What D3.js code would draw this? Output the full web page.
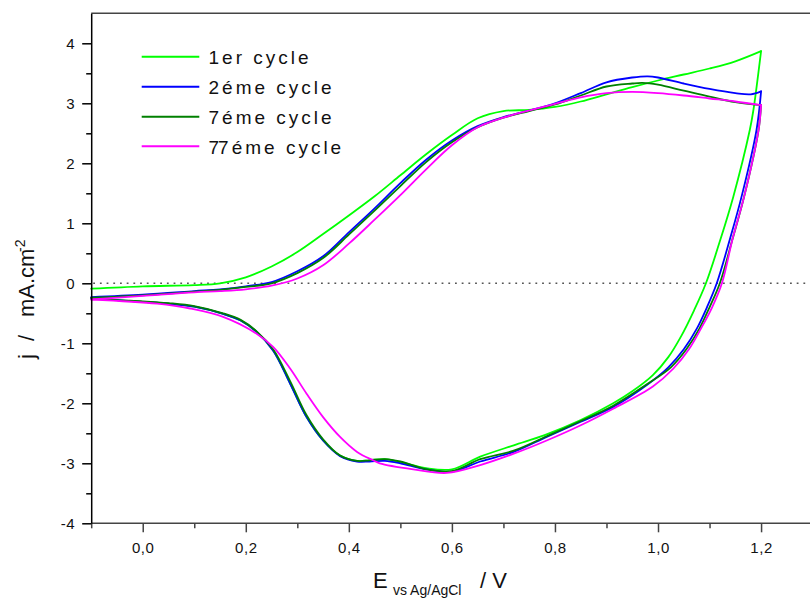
<!DOCTYPE html>
<html>
<head>
<meta charset="utf-8">
<script src="https://cdn.jsdelivr.net/npm/d3@7"></script>
<style>
  html, body { margin: 0; padding: 0; background: #fff; }
  svg { display: block; font-family: Arial, "Liberation Sans", sans-serif; }
</style>
</head>
<body>
<svg id="chart" width="810" height="599"></svg>
<script>
// ---------------- DATA ----------------
const seriesNames = ["1er cycle", "2éme cycle", "7éme cycle", "77éme cycle"];
const seriesColors = ["#00ff00", "#0000ff", "#008000", "#ff00ff"];

// 1er cycle
const c1AnodicE = [-0.1, 0.0, 0.1, 0.15, 0.2, 0.25, 0.3, 0.35, 0.4, 0.45, 0.5, 0.55, 0.6, 0.65, 0.7, 0.75, 0.8, 0.85, 0.9, 0.95, 1.0, 1.05, 1.1, 1.15, 1.2];
const c1AnodicJ = [-0.09, -0.05, -0.03, 0.0, 0.1, 0.28, 0.52, 0.82, 1.13, 1.45, 1.8, 2.15, 2.47, 2.75, 2.87, 2.89, 2.94, 3.03, 3.15, 3.27, 3.38, 3.48, 3.58, 3.7, 3.87];
const c1CathodicE = [1.2, 1.185, 1.178, 1.146, 1.12, 1.093, 1.07, 1.045, 1.02, 0.99, 0.95, 0.913, 0.85, 0.78, 0.72, 0.655, 0.6, 0.55, 0.5, 0.47, 0.44, 0.416, 0.383, 0.35, 0.318, 0.286, 0.253, 0.221, 0.19, 0.156, 0.1, 0.05, 0.0, -0.05, -0.1];
const c1CathodicJ = [3.87, 2.88, 2.55, 1.44, 0.7, 0.0, -0.45, -0.88, -1.23, -1.53, -1.8, -2.0, -2.28, -2.53, -2.7, -2.89, -3.1, -3.08, -2.98, -2.93, -2.95, -2.96, -2.87, -2.62, -2.23, -1.67, -1.12, -0.81, -0.62, -0.51, -0.39, -0.34, -0.31, -0.28, -0.26];

// 2éme cycle
const c2AnodicE = [-0.1, 0.0, 0.1, 0.15, 0.2, 0.25, 0.3, 0.35, 0.4, 0.45, 0.5, 0.55, 0.6, 0.65, 0.7, 0.75, 0.8, 0.85, 0.9, 0.95, 0.98, 1.0, 1.05, 1.1, 1.15, 1.18, 1.2];
const c2AnodicJ = [-0.23, -0.19, -0.13, -0.1, -0.05, 0.02, 0.2, 0.45, 0.85, 1.25, 1.67, 2.06, 2.38, 2.62, 2.77, 2.88, 3.0, 3.17, 3.35, 3.43, 3.45, 3.43, 3.33, 3.24, 3.17, 3.15, 3.2];
const c2CathodicE = [1.2, 1.191, 1.162, 1.14, 1.114, 1.095, 1.075, 1.05, 1.02, 0.979, 0.913, 0.849, 0.784, 0.72, 0.655, 0.6, 0.55, 0.5, 0.47, 0.44, 0.416, 0.383, 0.35, 0.318, 0.286, 0.253, 0.221, 0.19, 0.156, 0.1, 0.05, 0.0, -0.05, -0.1];
const c2CathodicJ = [3.2, 2.55, 1.44, 0.75, 0.0, -0.4, -0.76, -1.1, -1.4, -1.69, -2.06, -2.31, -2.56, -2.81, -2.97, -3.14, -3.1, -3.0, -2.96, -2.97, -2.97, -2.88, -2.62, -2.23, -1.67, -1.12, -0.81, -0.62, -0.51, -0.39, -0.34, -0.31, -0.28, -0.25];

// 7éme cycle
const c7AnodicE = [-0.1, 0.0, 0.1, 0.15, 0.2, 0.25, 0.3, 0.35, 0.4, 0.45, 0.5, 0.55, 0.6, 0.65, 0.7, 0.75, 0.8, 0.85, 0.9, 0.95, 0.97, 1.0, 1.05, 1.1, 1.15, 1.2];
const c7AnodicJ = [-0.24, -0.2, -0.14, -0.11, -0.06, 0.0, 0.17, 0.42, 0.81, 1.21, 1.62, 2.02, 2.35, 2.6, 2.76, 2.87, 2.98, 3.13, 3.28, 3.33, 3.34, 3.31, 3.21, 3.11, 3.02, 2.97];
const c7CathodicE = [1.2, 1.195, 1.167, 1.145, 1.12, 1.1, 1.08, 1.055, 1.025, 0.979, 0.913, 0.849, 0.784, 0.72, 0.655, 0.6, 0.55, 0.5, 0.47, 0.44, 0.416, 0.383, 0.35, 0.318, 0.286, 0.253, 0.221, 0.19, 0.156, 0.1, 0.05, 0.0, -0.05, -0.1];
const c7CathodicJ = [2.97, 2.55, 1.44, 0.75, 0.0, -0.4, -0.76, -1.1, -1.4, -1.68, -2.04, -2.3, -2.55, -2.79, -2.93, -3.13, -3.1, -2.97, -2.93, -2.95, -2.96, -2.87, -2.6, -2.2, -1.63, -1.1, -0.8, -0.61, -0.5, -0.38, -0.33, -0.3, -0.28, -0.25];

// 77éme cycle
const c77AnodicE = [-0.1, 0.0, 0.1, 0.15, 0.2, 0.25, 0.3, 0.35, 0.4, 0.45, 0.5, 0.55, 0.6, 0.65, 0.7, 0.75, 0.8, 0.85, 0.9, 0.95, 1.0, 1.05, 1.1, 1.15, 1.2];
const c77AnodicJ = [-0.27, -0.21, -0.15, -0.13, -0.1, -0.04, 0.08, 0.3, 0.66, 1.06, 1.47, 1.9, 2.3, 2.6, 2.76, 2.88, 2.99, 3.1, 3.17, 3.19, 3.17, 3.13, 3.08, 3.03, 2.97];
const c77CathodicE = [1.2, 1.195, 1.167, 1.145, 1.124, 1.105, 1.083, 1.06, 1.03, 0.99, 0.913, 0.849, 0.784, 0.72, 0.655, 0.59, 0.525, 0.46, 0.447, 0.416, 0.383, 0.35, 0.318, 0.286, 0.253, 0.221, 0.156, 0.092, 0.028, -0.1];
const c77CathodicJ = [2.97, 2.55, 1.44, 0.75, 0.0, -0.4, -0.76, -1.1, -1.42, -1.72, -2.09, -2.37, -2.62, -2.84, -3.03, -3.16, -3.1, -3.0, -2.95, -2.81, -2.56, -2.23, -1.84, -1.42, -1.06, -0.84, -0.56, -0.42, -0.34, -0.27];

const xMajorTicks = [0.0, 0.2, 0.4, 0.6, 0.8, 1.0, 1.2];
const xMinorTicks = [-0.1, 0.1, 0.3, 0.5, 0.7, 0.9, 1.1, 1.3];
const yMajorTicks = [-4, -3, -2, -1, 0, 1, 2, 3, 4];
const yMinorTicks = [-3.5, -2.5, -1.5, -0.5, 0.5, 1.5, 2.5, 3.5];

// ---------------- CHART ----------------
const svg = d3.select("#chart");
const x = d3.scaleLinear().domain([-0.1, 1.3]).range([91.2, 812.6]);
const y = d3.scaleLinear().domain([-4, 4.5]).range([523.3, 13.3]);

const series = [
  { an: [c1AnodicE, c1AnodicJ], ca: [c1CathodicE, c1CathodicJ] },
  { an: [c2AnodicE, c2AnodicJ], ca: [c2CathodicE, c2CathodicJ] },
  { an: [c7AnodicE, c7AnodicJ], ca: [c7CathodicE, c7CathodicJ] },
  { an: [c77AnodicE, c77AnodicJ], ca: [c77CathodicE, c77CathodicJ] }
].map((s, i) => ({ name: seriesNames[i], color: seriesColors[i], an: s.an, ca: s.ca }));

// Top frame line
svg.append("line")
  .attr("x1", x(-0.1)).attr("x2", 810)
  .attr("y1", y(4.5)).attr("y2", y(4.5))
  .attr("stroke", "#444").attr("stroke-width", 1.5);

// Zero dotted line
svg.append("line")
  .attr("x1", x(-0.1) + 2).attr("x2", 810)
  .attr("y1", y(0)).attr("y2", y(0))
  .attr("stroke", "#555").attr("stroke-width", 1.5)
  .attr("stroke-dasharray", "1.8,4.9");

// Curves
const line = d3.line()
  .x(d => x(d[0])).y(d => y(d[1]))
  .curve(d3.curveCatmullRom.alpha(0.5));

const gCurves = svg.append("g");
series.forEach(s => {
  [s.an, s.ca].forEach(arr => {
    const pts = arr[0].map((e, k) => [e, arr[1][k]]);
    gCurves.append("path")
      .attr("d", line(pts))
      .attr("fill", "none")
      .attr("stroke", s.color)
      .attr("stroke-width", 1.8)
      .attr("stroke-linejoin", "round")
      .attr("stroke-linecap", "round");
  });
});

// X axis
const fmtX = d => d3.format(".1f")(d).replace(".", ",");
const xAxis = svg.append("g").attr("transform", `translate(0,${y(-4)})`)
  .call(d3.axisBottom(x).tickValues(xMajorTicks).tickFormat(fmtX).tickSize(9).tickPadding(10).tickSizeOuter(0));
const xMinor = svg.append("g").attr("transform", `translate(0,${y(-4)})`)
  .call(d3.axisBottom(x).tickValues(xMinorTicks).tickFormat("").tickSize(5).tickSizeOuter(0));
[xAxis, xMinor].forEach(g => {
  g.select(".domain").attr("stroke", "#444").attr("stroke-width", 1.5);
  g.selectAll(".tick line").attr("stroke", "#444").attr("stroke-width", 1.5);
});
xMinor.select(".domain").remove();
xAxis.select(".domain").attr("d", `M${x(-0.1)},0H810`);
xAxis.selectAll(".tick text")
  .attr("fill", "#111")
  .style("font-size", "15px")
  .style("letter-spacing", "0.6px");

// Y axis
const yAxis = svg.append("g").attr("transform", `translate(${x(-0.1)},0)`)
  .call(d3.axisLeft(y).tickValues(yMajorTicks).tickFormat(d => String(d)).tickSize(9).tickPadding(7).tickSizeOuter(0));
const yMinor = svg.append("g").attr("transform", `translate(${x(-0.1)},0)`)
  .call(d3.axisLeft(y).tickValues(yMinorTicks).tickFormat("").tickSize(5).tickSizeOuter(0));
yMinor.select(".domain").remove();
yAxis.select(".domain").attr("stroke", "#000").attr("stroke-width", 1.5);
[yAxis, yMinor].forEach(g => g.selectAll(".tick line").attr("stroke", "#000").attr("stroke-width", 1.5));
yAxis.selectAll(".tick text")
  .attr("fill", "#111")
  .style("font-size", "15px")
  .style("letter-spacing", "0.6px");

// Axis titles
svg.append("text").attr("x", 373).attr("y", 588).attr("font-size", 22).attr("fill", "#111").text("E");
svg.append("text").attr("x", 393).attr("y", 595).attr("font-size", 14).attr("fill", "#111").text("vs Ag/AgCl");
svg.append("text").attr("x", 480).attr("y", 588).attr("font-size", 22).attr("fill", "#111").text("/  V");

const yt = svg.append("g").attr("transform", "rotate(-90)");
yt.append("text").attr("x", -359).attr("y", 34).attr("font-size", 22).attr("fill", "#111").text("j");
yt.append("text").attr("x", -341).attr("y", 34).attr("font-size", 22).attr("fill", "#111").text("/");
yt.append("text").attr("x", -317).attr("y", 34).attr("font-size", 22).attr("fill", "#111").text("mA.cm");
yt.append("text").attr("x", -252).attr("y", 25).attr("font-size", 14).attr("fill", "#111").text("-2");

// Legend
const legY = [56.7, 86.7, 116.7, 146.3];
const leg = svg.append("g");
series.forEach((s, i) => {
  leg.append("line")
    .attr("x1", 141.7).attr("x2", 199.3)
    .attr("y1", legY[i]).attr("y2", legY[i])
    .attr("stroke", s.color).attr("stroke-width", 2);
  const t = leg.append("text")
    .attr("x", 208.5).attr("y", legY[i] + 7.3)
    .attr("font-size", 19).attr("fill", "#111")
    .style("letter-spacing", "3px");
  if (s.name.startsWith("77")) {
    t.append("tspan").style("letter-spacing", "-1px").text("7");
    t.append("tspan").text(s.name.slice(1));
  } else {
    t.text(s.name);
  }
});
</script>
</body>
</html>
